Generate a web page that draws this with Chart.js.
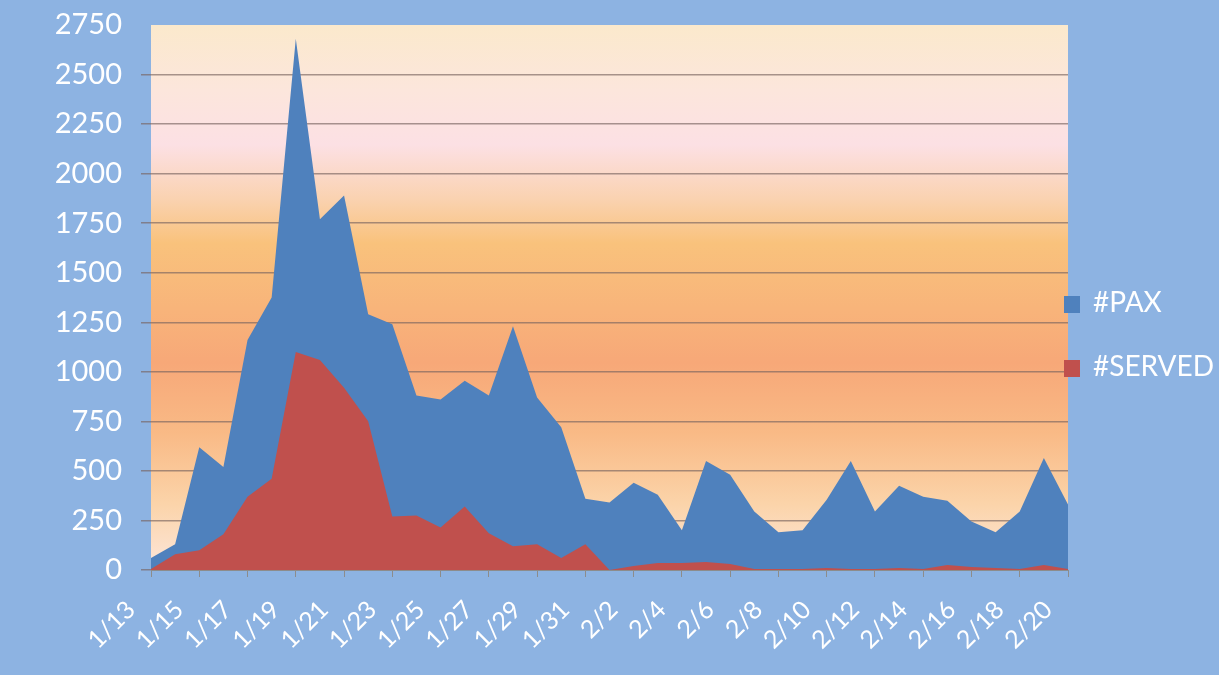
<!DOCTYPE html>
<html>
<head>
<meta charset="utf-8">
<script src="https://cdn.jsdelivr.net/npm/chart.js@4.4.1/dist/chart.umd.min.js"></script>
<style>
  html, body { margin: 0; padding: 0; background: #8DB3E2; }
  #wrap { position: relative; width: 1219px; height: 675px; }
  #legend { position: absolute; left: 1064px; top: 284px; font-family: Lato, sans-serif; font-size: 28px; color: #fff; }
  #legend div { height: 64px; line-height: 34px; white-space: nowrap; }
  #legend span { display: inline-block; width: 16px; height: 17px; margin-right: 13px; vertical-align: -1px; }
</style>
</head>
<body>
<div id="wrap">
  <canvas id="areaChart" width="1219" height="675"></canvas>
  <div id="legend">
    <div><span style="background:#4F81BD"></span>#PAX</div>
    <div><span style="background:#C0504D"></span>#SERVED</div>
  </div>
</div>
<script>
// fechas (un punto por dia)
const fechas = ['1/13','1/14','1/15','1/16','1/17','1/18','1/19','1/20','1/21','1/22','1/23','1/24','1/25','1/26','1/27','1/28','1/29','1/30','1/31',
  '2/1','2/2','2/3','2/4','2/5','2/6','2/7','2/8','2/9','2/10','2/11','2/12','2/13','2/14','2/15','2/16','2/17','2/18','2/19','2/20'];

const pax = [60,130,620,520,1160,1375,2680,1770,1890,1290,1240,880,860,955,880,1230,870,720,360,340,
  440,380,200,550,480,295,190,200,355,550,295,425,370,350,245,190,295,565,330];

const served = [5,80,100,180,370,460,1100,1060,920,750,270,275,215,320,185,120,130,60,130,0,
  20,35,35,40,30,5,5,5,10,5,5,10,5,25,15,10,5,25,5];

const yTicks = { min: 0, max: 2750, step: 250 };

// fondo degradado del area de trazado
const fondoPlot = {
  id: 'fondoPlot',
  beforeDraw(chart) {
    const { ctx, chartArea: a } = chart;
    const g = ctx.createLinearGradient(0, a.top, 0, a.bottom);
    g.addColorStop(0.00, '#FBE9CC');
    g.addColorStop(0.12, '#FCE6DC');
    g.addColorStop(0.22, '#FCE0E4');
    g.addColorStop(0.32, '#FAD2B0');
    g.addColorStop(0.40, '#F9C27C');
    g.addColorStop(0.52, '#F8B47A');
    g.addColorStop(0.62, '#F7A878');
    g.addColorStop(0.75, '#F9BA86');
    g.addColorStop(0.88, '#FBD4AA');
    g.addColorStop(1.00, '#FDE6DA');
    ctx.save();
    ctx.fillStyle = g;
    ctx.fillRect(a.left, a.top, a.right - a.left, a.bottom - a.top);
    ctx.restore();
  }
};

const chart = new Chart(document.getElementById('areaChart'), {
  type: 'line',
  data: {
    labels: fechas,
    datasets: [{
      label: '#PAX',
      data: pax,
      borderColor: '#4F81BD',
      backgroundColor: '#4F81BD',
      borderWidth: 0,
      fill: 'origin',
      pointRadius: 0,
      tension: 0,
      order: 1
    }, {
      label: '#SERVED',
      data: served,
      borderColor: '#C0504D',
      backgroundColor: '#C0504D',
      borderWidth: 0,
      fill: 'origin',
      pointRadius: 0,
      tension: 0,
      order: 0
    }]
  },
  options: {
    responsive: false,
    animation: false,
    layout: { padding: { top: 25, right: 151, left: 0, bottom: 0 } },
    plugins: {
      legend: { display: false },
      tooltip: { enabled: false }
    },
    scales: {
      x: {
        offset: false,
        afterFit: s => { s.height = 105; },
        border: { color: '#8C8C8C', width: 1 },
        grid: {
          drawOnChartArea: false,
          tickLength: 7,
          color: c => (c.index % 2 === 0 ? '#8C8C8C' : 'rgba(0,0,0,0)')
        },
        ticks: {
          autoSkip: false,
          minRotation: 45,
          maxRotation: 45,
          padding: 18,
          labelOffset: -20,
          color: '#FFFFFF',
          font: { family: 'Lato', size: 25 },
          callback: function (v, i) { return i % 2 === 0 ? this.getLabelForValue(v) : ''; }
        }
      },
      y: {
        min: yTicks.min,
        max: yTicks.max,
        // ancho fijo y sin relleno extra arriba/abajo
        afterFit: s => { s.width = 151; s.paddingTop = 0; s.paddingBottom = 0; },
        border: { display: false },
        grid: {
          tickLength: 10,
          lineWidth: 1.5,
          color: c => (c.tick && c.tick.value === yTicks.max ? 'rgba(0,0,0,0)' : 'rgba(120,100,95,0.65)')
        },
        ticks: {
          stepSize: yTicks.step,
          padding: 19,
          color: '#FFFFFF',
          font: { family: 'Lato', size: 29 },
          callback: v => String(v)
        }
      }
    }
  },
  plugins: [fondoPlot]
});
</script>
</body>
</html>
